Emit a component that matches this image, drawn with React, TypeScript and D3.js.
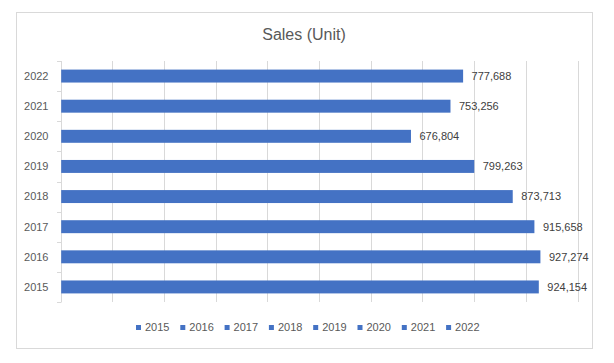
import { useEffect, useRef } from "react";
import * as d3 from "d3";

const years = ["2015", "2016", "2017", "2018", "2019", "2020", "2021", "2022"];
const sales = [924154, 927274, 915658, 873713, 799263, 676804, 753256, 777688];
const xTicks = [0, 100000, 200000, 300000, 400000, 500000, 600000, 700000, 800000, 900000, 1000000];

const BLUE = "#4472C4";
const GRID = "#d9d9d9";
const FONT = "'Liberation Sans', Arial, sans-serif";

export default function App() {
  const svgRef = useRef<SVGSVGElement>(null);

  useEffect(() => {
    if (!svgRef.current) return;
    const svg = d3.select(svgRef.current);
    svg.selectAll("*").remove();

    const left = 60.7;
    const right = 577.5;
    const top = 61;
    const bottom = 302;

    const x = d3.scaleLinear().domain([0, 1000000]).range([left, right]);
    const y = d3
      .scaleBand<string>()
      .domain([...years].reverse())
      .range([top, bottom])
      .paddingInner(0.57)
      .paddingOuter(0.285);

    // chart border
    svg
      .append("rect")
      .attr("x", 16.5)
      .attr("y", 12.5)
      .attr("width", 576)
      .attr("height", 336)
      .attr("fill", "#fff")
      .attr("stroke", GRID);

    // title
    svg
      .append("text")
      .attr("x", 304)
      .attr("y", 40)
      .attr("text-anchor", "middle")
      .attr("font-family", FONT)
      .attr("font-size", 16)
      .attr("fill", "#595959")
      .text("Sales (Unit)");

    // vertical gridlines
    svg
      .append("g")
      .selectAll("line")
      .data(xTicks.slice(1))
      .enter()
      .append("line")
      .attr("x1", (d) => Math.round(x(d)) + 0.5)
      .attr("x2", (d) => Math.round(x(d)) + 0.5)
      .attr("y1", top)
      .attr("y2", bottom)
      .attr("stroke", GRID);

    // y axis with Excel style tick marks between categories
    const step = y.step();
    const yAxis = svg.append("g");
    yAxis
      .append("line")
      .attr("x1", Math.round(left) + 0.5)
      .attr("x2", Math.round(left) + 0.5)
      .attr("y1", top)
      .attr("y2", bottom)
      .attr("stroke", GRID);
    yAxis
      .selectAll("line.tick")
      .data(d3.range(years.length + 1))
      .enter()
      .append("line")
      .attr("class", "tick")
      .attr("x1", Math.round(left) - 4)
      .attr("x2", Math.round(left) + 0.5)
      .attr("y1", (i) => Math.round(top + i * step) + 0.5)
      .attr("y2", (i) => Math.round(top + i * step) + 0.5)
      .attr("stroke", GRID);
    yAxis
      .selectAll("text")
      .data(years)
      .enter()
      .append("text")
      .attr("x", 48.5)
      .attr("y", (d) => (y(d) ?? 0) + y.bandwidth() / 2)
      .attr("dy", "0.35em")
      .attr("text-anchor", "end")
      .attr("font-family", FONT)
      .attr("font-size", 11)
      .attr("fill", "#595959")
      .text((d) => d);

    // bars
    const rows = years.map((yr, i) => ({ yr, v: sales[i] }));
    svg
      .append("g")
      .selectAll("rect")
      .data(rows)
      .enter()
      .append("rect")
      .attr("x", x(0) + 0.5)
      .attr("y", (d) => y(d.yr) ?? 0)
      .attr("width", (d) => x(d.v) - x(0))
      .attr("height", y.bandwidth())
      .attr("fill", BLUE);

    // data labels
    svg
      .append("g")
      .selectAll("text")
      .data(rows)
      .enter()
      .append("text")
      .attr("x", (d) => x(d.v) + 9)
      .attr("y", (d) => (y(d.yr) ?? 0) + y.bandwidth() / 2)
      .attr("dy", "0.35em")
      .attr("font-family", FONT)
      .attr("font-size", 11)
      .attr("fill", "#404040")
      .text((d) => d3.format(",")(d.v));

    // legend
    const legend = svg
      .append("g")
      .selectAll("g")
      .data(years)
      .enter()
      .append("g")
      .attr("transform", (_, i) => `translate(${136 + i * 44.3},327.5)`);
    legend
      .append("rect")
      .attr("x", 0)
      .attr("y", -2.5)
      .attr("width", 5)
      .attr("height", 5)
      .attr("fill", BLUE);
    legend
      .append("text")
      .attr("x", 9)
      .attr("y", 0)
      .attr("dy", "0.35em")
      .attr("font-family", FONT)
      .attr("font-size", 11)
      .attr("fill", "#595959")
      .text((d) => d);
  }, []);

  return (
    <svg
      ref={svgRef}
      width="614"
      height="363"
      style={{ position: "absolute", left: 0, top: 0, background: "#fff" }}
    />
  );
}
